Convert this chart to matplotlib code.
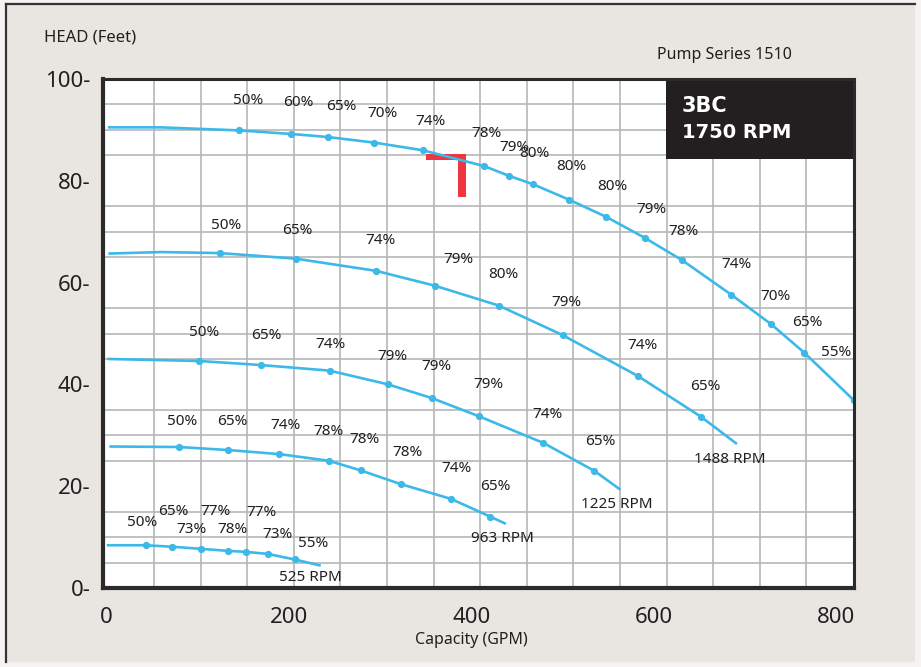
import numpy as np
import matplotlib.pyplot as plt
from matplotlib.patches import Rectangle
from matplotlib.lines import Line2D

# ------------------------------------------------------------
# Pump curve data (capacity in GPM, head in feet)
# ------------------------------------------------------------
gpm_1750 = [2, 60, 146, 203, 243, 294, 347, 414, 441, 468, 507, 548, 590, 631, 685, 728, 765, 819]
head_1750 = [90.5, 90.5, 89.9, 89.2, 88.6, 87.5, 86.0, 82.9, 81.0, 79.3, 76.3, 72.9, 68.8, 64.4, 57.6, 51.9, 46.2, 36.9]
dots_1750 = [0, 0, 1, 1, 1, 1, 1, 1, 1, 1, 1, 1, 1, 1, 1, 1, 1, 1]

gpm_1488 = [2.5, 60, 124.5, 208, 296, 360, 430, 500, 583, 652, 691]
head_1488 = [65.7, 66.0, 65.8, 64.7, 62.3, 59.4, 55.5, 49.7, 41.6, 33.6, 28.3]
dots_1488 = [0, 0, 1, 1, 1, 1, 1, 1, 1, 1, 0]

gpm_1225 = [1.4, 102, 170, 245, 309, 357, 409, 479, 535, 563.5]
head_1225 = [45.0, 44.6, 43.8, 42.7, 40.0, 37.3, 33.7, 28.5, 23.0, 19.3]
dots_1225 = [0, 1, 1, 1, 1, 1, 1, 1, 1, 0]

gpm_963 = [3.6, 80, 134, 190, 244, 279, 323, 378, 421, 438]
head_963 = [27.8, 27.7, 27.1, 26.3, 25.0, 23.1, 20.4, 17.5, 14.0, 12.6]
dots_963 = [0, 1, 1, 1, 1, 1, 1, 1, 1, 0]

gpm_525 = [0.8, 43.5, 72.6, 103.7, 133.3, 153, 177.1, 206.7, 235.2]
head_525 = [8.4, 8.4, 8.1, 7.7, 7.3, 7.1, 6.7, 5.6, 4.4]
dots_525 = [0, 1, 1, 1, 1, 1, 1, 1, 0]

# efficiency labels: (text, gpm, head)
eff_1750 = [("50%", 155.5, 96.2), ("60%", 210.3, 95.8), ("65%", 257.4, 95.0),
            ("70%", 302.3, 93.7), ("74%", 354.9, 92.1), ("78%", 416.2, 89.6),
            ("79%", 446.9, 87.0), ("80%", 468.8, 85.7), ("80%", 509.3, 83.2),
            ("80%", 554.2, 79.2), ("79%", 596.9, 74.8), ("78%", 632.0, 70.4),
            ("74%", 691.1, 63.9), ("70%", 733.8, 57.6), ("65%", 768.6, 52.6),
            ("55%", 799.6, 46.7)]
eff_1488 = [("50%", 131.4, 71.6), ("65%", 209.2, 70.6), ("74%", 300.1, 68.6),
            ("79%", 385.5, 64.9), ("80%", 434.8, 61.9), ("79%", 503.8, 56.4),
            ("74%", 587.1, 48.1), ("65%", 656.1, 39.9)]
eff_1225 = [("50%", 107.3, 50.5), ("65%", 176.0, 50.0), ("74%", 246.4, 48.2),
            ("79%", 314.0, 45.8), ("79%", 361.4, 43.9), ("79%", 419.2, 40.3),
            ("74%", 483.0, 34.4), ("65%", 541.1, 29.1)]
eff_963 = [("50%", 83.8, 33.2), ("65%", 138.0, 33.1), ("74%", 196.1, 32.4),
           ("78%", 243.5, 31.2), ("78%", 282.9, 29.6), ("78%", 330.4, 27.1),
           ("74%", 383.4, 23.8), ("65%", 426.8, 20.4)]
eff_525 = [("50%", 40.0, 13.2), ("65%", 73.7, 15.4), ("73%", 93.9, 11.8),
           ("77%", 120.2, 15.5), ("78%", 138.3, 11.8), ("77%", 169.8, 15.2),
           ("73%", 187.3, 10.9), ("55%", 227.1, 9.2)]

# speed labels: (text, gpm, head)
rpm_labels = [("1488 RPM", 683.5, 25.7), ("1225 RPM", 559.7, 16.8),
              ("963 RPM", 433.7, 10.2), ("525 RPM", 223.8, 2.4)]

# design point marker
duty_gpm = 394
duty_head = 85.3

x_ticks = [0, 200, 400, 600, 800]
y_ticks = [0, 20, 40, 60, 80, 100]

BLUE = "#3cb9e8"
INK = "#231f20"
BEIGE = "#e9e6e1"
FONT = "Noto Sans"

# ------------------------------------------------------------
# Figure and panel background
# ------------------------------------------------------------
fig = plt.figure(figsize=(9.21, 6.67), dpi=100)
fig.patch.set_facecolor("#f4f3f1")
fig.patches.append(Rectangle((6 / 921, 5 / 667), 909 / 921, 658 / 667,
                             transform=fig.transFigure, facecolor=BEIGE,
                             edgecolor="none", zorder=-2))
fig.lines.append(Line2D([6 / 921, 6 / 921], [5 / 667, 663 / 667],
                        transform=fig.transFigure, color="#333333", lw=1.6, zorder=-1))
fig.lines.append(Line2D([6 / 921, 915 / 921], [663 / 667, 663 / 667],
                        transform=fig.transFigure, color="#333333", lw=1.6, zorder=-1))

ax = fig.add_axes([103 / 921, 79 / 667, 750.5 / 921, 509 / 667])
ax.set_facecolor("white")
ax.set_xlim(-3.3, 818.7)
ax.set_ylim(0, 100)

# grid (the printed grid is not aligned with the tick labels)
ax.set_xticks(np.linspace(52.6, 767.2, 15), minor=True)
ax.set_yticks(np.arange(5, 100, 5), minor=True)
ax.grid(which="minor", color="#b4b6b9", lw=1.2)
ax.grid(which="major", visible=False)
ax.set_axisbelow(True)

ax.set_xticks(x_ticks)
ax.set_xticklabels([str(v) for v in x_ticks], fontsize=16, family=FONT, color=INK)
ax.set_yticks(y_ticks)
ax.set_yticklabels([f"{v}-" for v in y_ticks], fontsize=16, family=FONT, color=INK)
ax.tick_params(which="both", length=0)
ax.tick_params(axis="x", pad=14)
ax.tick_params(axis="y", pad=9)
for side in ["left", "bottom"]:
    ax.spines[side].set_linewidth(3)
for side in ["top", "right"]:
    ax.spines[side].set_linewidth(2.2)
for sp in ax.spines.values():
    sp.set_color("#2b2b2b")
    sp.set_zorder(5)

# ------------------------------------------------------------
# Design point marker
# ------------------------------------------------------------
ax.add_patch(Rectangle((duty_gpm - 43.4, duty_head - 1.3), 43.4, 1.3,
                       facecolor="#ee3540", edgecolor="none", zorder=2))
ax.add_patch(Rectangle((duty_gpm - 8.5, duty_head - 8.5), 8.5, 8.5,
                       facecolor="#ee3540", edgecolor="none", zorder=2))

# ------------------------------------------------------------
# Curves
# ------------------------------------------------------------
curves = [(gpm_1750, head_1750, dots_1750), (gpm_1488, head_1488, dots_1488),
          (gpm_1225, head_1225, dots_1225), (gpm_963, head_963, dots_963),
          (gpm_525, head_525, dots_525)]
for gpm, head, dots in curves:
    idx = [i for i, d in enumerate(dots) if d]
    ax.plot(gpm, head, color=BLUE, lw=1.9, marker="o", ms=4.2,
            markevery=idx, solid_capstyle="butt", solid_joinstyle="round", zorder=3)

for labels in [eff_1750, eff_1488, eff_1225, eff_963, eff_525]:
    for txt, x, y in labels:
        ax.text(x, y, txt, fontsize=11, family=FONT, color=INK,
                ha="center", va="center_baseline", zorder=4)

for txt, x, y in rpm_labels:
    ax.text(x, y, txt, fontsize=11, family=FONT, color=INK,
            ha="center", va="center_baseline", zorder=4)

# ------------------------------------------------------------
# Title box and axis titles
# ------------------------------------------------------------
ax.add_patch(Rectangle((0.75, 0.8437), 0.25, 0.1563, transform=ax.transAxes,
                       facecolor=INK, edgecolor="none", zorder=4))
fig.text(682 / 921, 1 - 106 / 667, "3BC", color="white", fontsize=15,
         fontweight="bold", family="DejaVu Sans", ha="left", va="center")
fig.text(682 / 921, 1 - 133 / 667, "1750 RPM", color="white", fontsize=14,
         fontweight="bold", family="DejaVu Sans", ha="left", va="center")

fig.text(44 / 921, 1 - 38 / 667, "HEAD (Feet)", fontsize=12, family=FONT,
         color=INK, ha="left", va="center")
fig.text(724 / 921, 1 - 55 / 667, "Pump Series 1510", fontsize=11.5, family=FONT,
         color=INK, ha="center", va="center")
fig.text(471 / 921, 1 - 640 / 667, "Capacity (GPM)", fontsize=11.5, family=FONT,
         color=INK, ha="center", va="center")

fig.savefig("out.png", dpi=100, facecolor=fig.get_facecolor())
